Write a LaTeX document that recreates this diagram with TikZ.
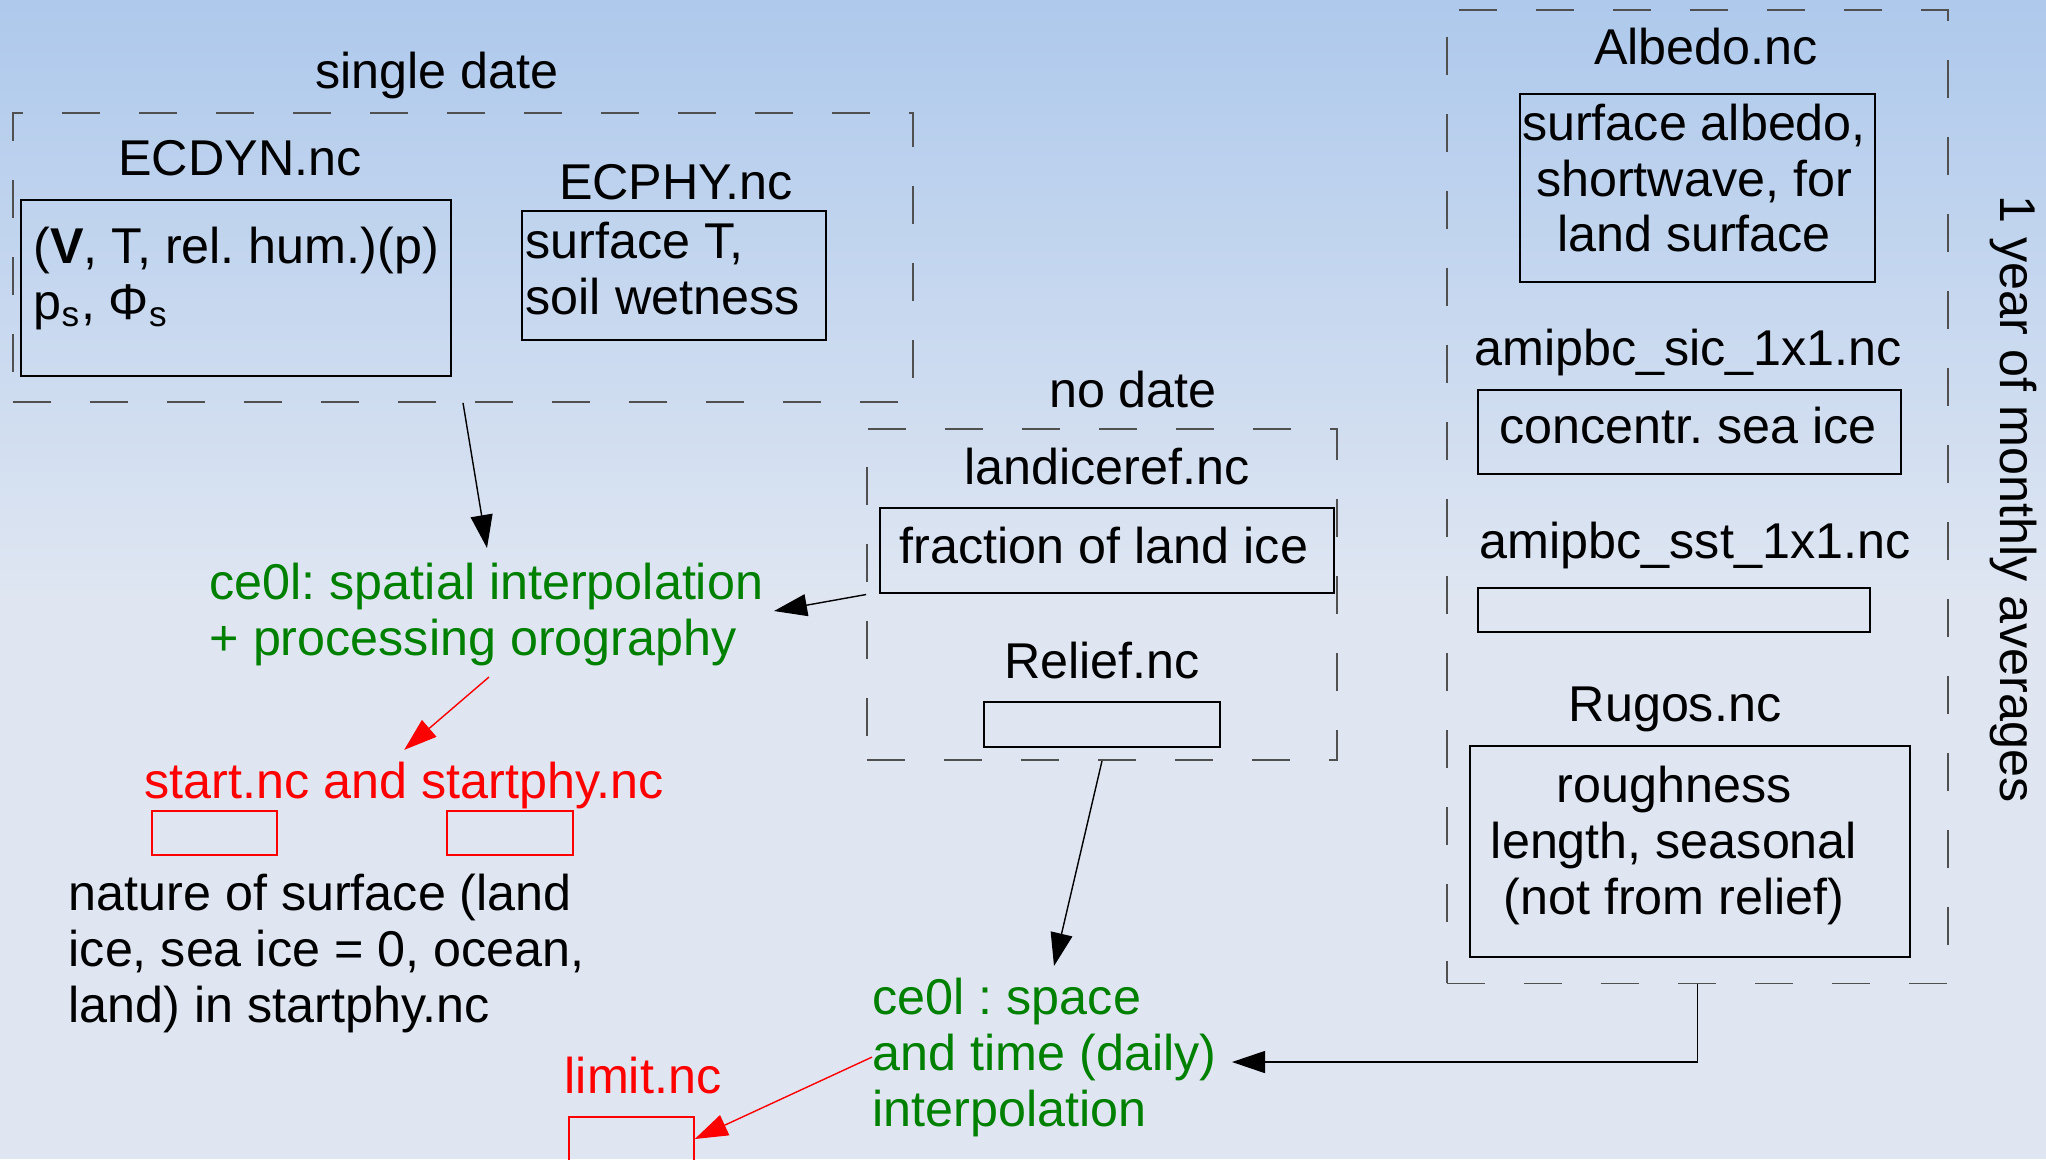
\documentclass[tikz,border=0pt]{standalone}
\usepackage{fontspec}
\setmainfont{Liberation Sans}
\usetikzlibrary{arrows.meta}
\frenchspacing

\definecolor{bgtop}{RGB}{174,201,236}
\definecolor{bgbot}{RGB}{223,230,242}
\definecolor{procgreen}{RGB}{0,128,0}
\definecolor{grpgray}{RGB}{80,80,80}

\begin{document}
\begin{tikzpicture}[x=0.01cm,y=-0.01cm,
  every node/.style={inner sep=0pt, font=\fontsize{14.3pt}{15.9pt}\selectfont},
  group/.style={draw=grpgray, line width=0.45pt, dash pattern=on 0.38cm off 0.39cm},
  filebox/.style={draw, line width=0.4pt},
  outbox/.style={draw=red, line width=0.4pt},
  blkarrow/.style={line width=0.4pt, -{Triangle[length=0.33cm,width=0.22cm]}},
  redarrow/.style={red, line width=0.4pt, -{Triangle[length=0.33cm,width=0.22cm]}}]

  \useasboundingbox (0,0) rectangle (2046,1159);
  \clip (0,0) rectangle (2046,1159);
  \fill[bgbot] (0,0) rectangle (2046,1159);
  \shade[top color=bgtop, bottom color=bgbot] (0,0) rectangle (2046,600);

  % single date
  \node[group, minimum width=9.00cm, minimum height=2.89cm] (single) at (463,257.5) {};
  \node[anchor=base] (singlelbl) at (437,88) {single date};
  \node[anchor=base] (ecdynlbl) at (240,175) {ECDYN.nc};
  \node[filebox, minimum width=4.30cm, minimum height=1.76cm] (ecdynbox) at (236,288) {};
  \node[anchor=north west, align=left] (ecdyntext) at (33,226)
    {(\textbf{V}, T, rel. hum.)(p)\\p\textsubscript{s}, Φ\textsubscript{s}};
  \node[anchor=base] (ecphylbl) at (676,199) {ECPHY.nc};
  \node[filebox, minimum width=3.04cm, minimum height=1.29cm] (ecphybox) at (674,275.5) {};
  \node[anchor=north west, align=left] (ecphytext) at (525,221)
    {surface T,\\soil wetness};

  % no date
  \node[group, minimum width=4.70cm, minimum height=3.31cm] (nodate) at (1102,594.5) {};
  \node[anchor=base] (nodatelbl) at (1133,407) {no date};
  \node[anchor=base] (landicelbl) at (1107,484) {landiceref.nc};
  \node[filebox, minimum width=4.54cm, minimum height=0.85cm] (fracbox) at (1107,550.5) {};
  \node[anchor=base] (fractext) at (1104,563) {fraction of land ice};
  \node[anchor=base] (relieflbl) at (1102,678) {Relief.nc};
  \node[filebox, minimum width=2.36cm, minimum height=0.45cm] (reliefbox) at (1102,724.5) {};

  % 1 year of monthly averages
  \node[group, minimum width=5.01cm, minimum height=9.73cm] (monthly) at (1697.5,496.5) {};
  \node[rotate=-90] (monthlylbl) at (2013,499) {1 year of monthly averages};
  \node[anchor=base] (albedolbl) at (1706,64) {Albedo.nc};
  \node[filebox, minimum width=3.55cm, minimum height=1.88cm] (albedobox) at (1697.5,188) {};
  \node[anchor=north, align=center] (albedotext) at (1694,103)
    {surface albedo,\\shortwave, for\\land surface};
  \node[anchor=base] (siclbl) at (1688,365) {amipbc\_sic\_1x1.nc};
  \node[filebox, minimum width=4.23cm, minimum height=0.84cm] (sicbox) at (1689.5,432) {};
  \node[anchor=base] (sictext) at (1688,443) {concentr. sea ice};
  \node[anchor=base] (sstlbl) at (1695,558) {amipbc\_sst\_1x1.nc};
  \node[filebox, minimum width=3.92cm, minimum height=0.44cm] (sstbox) at (1674,610) {};
  \node[anchor=base] (rugoslbl) at (1675,721) {Rugos.nc};
  \node[filebox, minimum width=4.40cm, minimum height=2.11cm] (rugosbox) at (1690,851.5) {};
  \node[anchor=north, align=center] (rugostext) at (1674,765)
    {roughness\\length, seasonal\\(not from relief)};

  % processing and outputs
  \node[anchor=north west, align=left, text=procgreen] (interp) at (209,562)
    {ce0l: spatial interpolation\\+ processing orography};
  \node[anchor=base west, text=red] (startlbl) at (144,798) {start.nc and startphy.nc};
  \node[outbox, minimum width=1.25cm, minimum height=0.44cm] (startbox) at (214.5,833) {};
  \node[outbox, minimum width=1.26cm, minimum height=0.44cm] (startphybox) at (510,833) {};
  \node[anchor=north west, align=left] (nature) at (68,873)
    {nature of surface (land\\ice, sea ice = 0, ocean,\\land) in startphy.nc};
  \node[anchor=north west, align=left, text=procgreen] (spacetime) at (872,977)
    {ce0l : space\\and time (daily)\\interpolation};
  \node[anchor=base, text=red] (limitlbl) at (643,1093) {limit.nc};
  \node[outbox, minimum width=1.25cm, minimum height=0.44cm] (limitbox) at (631.5,1139) {};

  \coordinate (interptop) at (487,548);
  \coordinate (interpright) at (774,611);
  \coordinate (interpbot) at (489,677);
  \coordinate (spacetop) at (1054,966);
  \coordinate (spaceright) at (1232,1062);

  \draw[blkarrow] (single.south) -- (interptop);
  \draw[blkarrow] (nodate.west) -- (interpright);
  \draw[blkarrow] (nodate.south) -- (spacetop);
  \draw[blkarrow] (monthly.south) |- (spaceright);
  \draw[redarrow] (interpbot) -- ([yshift=0.11cm]startlbl.north);
  \draw[redarrow] (spacetime.west) -- (limitbox.east);
\end{tikzpicture}
\end{document}
